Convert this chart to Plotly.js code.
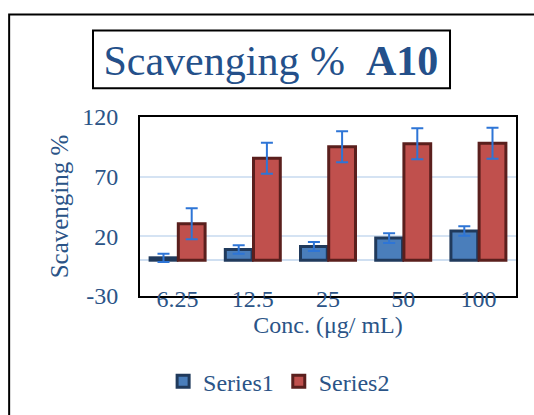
<!DOCTYPE html>
<html>
<head>
<meta charset="utf-8">
<script src="https://cdn.plot.ly/plotly-3.0.1.min.js"></script>
<style>html,body{margin:0;padding:0;background:#fff;}#chart{width:534px;height:415px;}</style>
</head>
<body>
<div id="chart"></div>
<script>
const categories = ["6.25", "12.5", "25", "50", "100"];
const series1 = [2, 9, 11.5, 18.5, 24.5];
const series1Err = [3.5, 3.5, 3.7, 4, 4];
const series2 = [30.5, 85.5, 95, 97.5, 98];
const series2Err = [13, 13, 13, 13, 13];
const yTicks = [-30, 20, 70, 120];
const yTickLabels = ["-30", "20", "70", "120"];

const txtColor = "#2B5487";
const fontFam = "'Liberation Serif', 'DejaVu Serif', serif";

const traces = [
  {
    type: "bar", name: "Series1", x: categories, y: series1,
    marker: {color: "#4A7EBB", line: {color: "#203A5C", width: 3}},
    error_y: {type: "data", array: series1Err, visible: true, color: "#2E75D6", thickness: 2, width: 6}
  },
  {
    type: "bar", name: "Series2", x: categories, y: series2,
    marker: {color: "#C0504D", line: {color: "#5A1F1D", width: 3}},
    error_y: {type: "data", array: series2Err, visible: true, color: "#2E75D6", thickness: 2, width: 6}
  }
];

const layout = {
  width: 534, height: 415,
  margin: {l: 140, r: 18, t: 117, b: 118},
  paper_bgcolor: "#fff", plot_bgcolor: "#fff",
  font: {family: fontFam, color: txtColor, size: 24},
  bargap: 0.25, bargroupgap: 0.05,
  title: {
    text: "Scavenging %  <b>A10</b>",
    font: {family: fontFam, size: 42, color: "#24508A"},
    xref: "paper", x: 0.348, xanchor: "center",
    yref: "container", y: 0.855, yanchor: "middle"
  },
  xaxis: {
    type: "category",
    showline: true, mirror: true, linecolor: "#000", linewidth: 2,
    ticks: "", showgrid: false,
    ticklabelposition: "outside", ticklabelstandoff: -20,
    tickfont: {family: fontFam, size: 24, color: txtColor},
    title: {text: "Conc. (μg/ mL)", font: {family: fontFam, size: 24, color: txtColor}, standoff: 0}
  },
  yaxis: {
    range: [-30, 120], tickvals: yTicks, ticktext: yTickLabels,
    showline: true, mirror: true, linecolor: "#000", linewidth: 2,
    ticks: "", showgrid: true, gridcolor: "#D5E3F3", gridwidth: 2,
    zeroline: true, zerolinecolor: "#CFDFF1", zerolinewidth: 2,
    tickfont: {family: fontFam, size: 24, color: txtColor},
    ticklabelstandoff: 15,
    title: {text: "Scavenging %", font: {family: fontFam, size: 25, color: txtColor}, standoff: 6}
  },
  legend: {
    orientation: "h", x: 0.37, xanchor: "center", y: -0.47, yanchor: "middle",
    font: {family: fontFam, size: 24, color: txtColor},
    itemwidth: 30, traceorder: "normal"
  },
  shapes: [
    {type: "rect", xref: "paper", yref: "paper", x0: -0.125, x1: 0.8245, y0: 1.161, y1: 1.483,
     line: {color: "#000", width: 2}, fillcolor: "rgba(0,0,0,0)"},
    {type: "rect", xref: "paper", yref: "paper", x0: -0.348, x1: 1.1, y0: -0.75, y1: 1.572,
     line: {color: "#000", width: 2}, fillcolor: "rgba(0,0,0,0)"}
  ]
};

Plotly.newPlot("chart", traces, layout, {displayModeBar: false, staticPlot: true});
</script>
</body>
</html>
